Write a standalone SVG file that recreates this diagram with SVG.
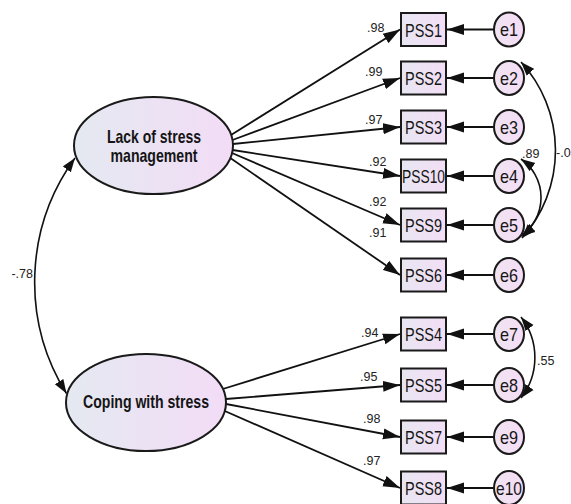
<svg xmlns="http://www.w3.org/2000/svg" width="571" height="504" viewBox="0 0 571 504">
<style>
.lat{stroke:#1a1a1a;stroke-width:2;fill:url(#gLat)}
.obs{stroke:#1a1a1a;stroke-width:2;fill:url(#gObs)}
.err{stroke:#1a1a1a;stroke-width:2;fill:url(#gErr)}
.ln{stroke:#111;stroke-width:1.8;fill:none;marker-end:url(#ah)}
.cv{stroke:#111;stroke-width:1.6;fill:none;marker-start:url(#ah2);marker-end:url(#ah2)}
.tl{font-family:"Liberation Sans",Arial,sans-serif;font-weight:bold;font-size:18.5px;fill:#151515;text-anchor:middle}
.tn{font-family:"Liberation Sans",Arial,sans-serif;font-size:19px;fill:#151515;text-anchor:middle}
.lb{font-family:"Liberation Sans",Arial,sans-serif;font-size:12.5px;fill:#222}
</style>
<defs>
<linearGradient id="gLat" x1="0" y1="0" x2="1" y2="0"><stop offset="0" stop-color="#e4e9f1"/><stop offset="1" stop-color="#f3dcf6"/></linearGradient>
<linearGradient id="gObs" x1="0" y1="0" x2="1" y2="0"><stop offset="0" stop-color="#e8e6f2"/><stop offset="1" stop-color="#f2def5"/></linearGradient>
<linearGradient id="gErr" x1="0" y1="0" x2="1" y2="0"><stop offset="0" stop-color="#efe4f2"/><stop offset="1" stop-color="#f5dcf5"/></linearGradient>
<marker id="ah" markerUnits="userSpaceOnUse" markerWidth="18" markerHeight="12" refX="17" refY="6" orient="auto"><path d="M0,0.5 L17,6 L0,11.5 z" fill="#111"/></marker>
<marker id="ah2" markerUnits="userSpaceOnUse" markerWidth="15" markerHeight="11" refX="14" refY="5.5" orient="auto-start-reverse"><path d="M0,0.5 L14,5.5 L0,10.5 z" fill="#111"/></marker>
</defs>

<g id="connectors">
<path class="ln" d="M231,135 L400,29.5"/>
<path class="ln" d="M232.5,140 L400,78"/>
<path class="ln" d="M233,144 L400,127"/>
<path class="ln" d="M232.7,150 L400,176"/>
<path class="ln" d="M232,153 L400,225"/>
<path class="ln" d="M230.3,158 L400,275"/>
<path class="ln" d="M222.8,389 L400,334"/>
<path class="ln" d="M225.8,399 L400,385"/>
<path class="ln" d="M226,404 L400,437"/>
<path class="ln" d="M224.8,411 L400,488"/>
<path class="ln" d="M494,29.5 L447,29.5"/>
<path class="ln" d="M494,78 L447,78"/>
<path class="ln" d="M494,127 L447,127"/>
<path class="ln" d="M494,176 L447,176"/>
<path class="ln" d="M494,225 L447,225"/>
<path class="ln" d="M494,275 L447,275"/>
<path class="ln" d="M494,334 L447,334"/>
<path class="ln" d="M494,385 L447,385"/>
<path class="ln" d="M494,437 L447,437"/>
<path class="ln" d="M494,488 L447,488"/>
<path class="cv" d="M75,158 A211,211 0 0 0 66.5,393.5"/>
<path class="cv" d="M521,62 A131,131 0 0 1 522,238"/>
<path class="cv" d="M521,159 A47,47 0 0 1 521,236"/>
<path class="cv" d="M521,317 A66,66 0 0 1 521,398"/>
</g>

<g id="lat1"><ellipse class="lat" cx="153.5" cy="145.5" rx="79.5" ry="48.5"/><text class="tl" x="154" y="142.5" textLength="94" lengthAdjust="spacingAndGlyphs">Lack of stress</text><text class="tl" x="154" y="162" textLength="87" lengthAdjust="spacingAndGlyphs">management</text></g>
<g id="lat2"><ellipse class="lat" cx="146" cy="402.5" rx="80" ry="48.5"/><text class="tl" x="146" y="408" textLength="126" lengthAdjust="spacingAndGlyphs">Coping with stress</text></g>

<g id="PSS1"><rect class="obs" x="401" y="13" width="45" height="33"/><text class="tn" x="423.5" y="36.5" textLength="37" lengthAdjust="spacingAndGlyphs">PSS1</text></g>
<g id="PSS2"><rect class="obs" x="401" y="61.5" width="45" height="33"/><text class="tn" x="423.5" y="85" textLength="37" lengthAdjust="spacingAndGlyphs">PSS2</text></g>
<g id="PSS3"><rect class="obs" x="401" y="110.5" width="45" height="33"/><text class="tn" x="423.5" y="134" textLength="37" lengthAdjust="spacingAndGlyphs">PSS3</text></g>
<g id="PSS10"><rect class="obs" x="401" y="159.5" width="45" height="33"/><text class="tn" x="423.5" y="183" textLength="43" lengthAdjust="spacingAndGlyphs">PSS10</text></g>
<g id="PSS9"><rect class="obs" x="401" y="208.5" width="45" height="33"/><text class="tn" x="423.5" y="232" textLength="37" lengthAdjust="spacingAndGlyphs">PSS9</text></g>
<g id="PSS6"><rect class="obs" x="401" y="258.5" width="45" height="33"/><text class="tn" x="423.5" y="282" textLength="37" lengthAdjust="spacingAndGlyphs">PSS6</text></g>
<g id="PSS4"><rect class="obs" x="401" y="317.5" width="45" height="33"/><text class="tn" x="423.5" y="341" textLength="37" lengthAdjust="spacingAndGlyphs">PSS4</text></g>
<g id="PSS5"><rect class="obs" x="401" y="368.5" width="45" height="33"/><text class="tn" x="423.5" y="392" textLength="37" lengthAdjust="spacingAndGlyphs">PSS5</text></g>
<g id="PSS7"><rect class="obs" x="401" y="420.5" width="45" height="33"/><text class="tn" x="423.5" y="444" textLength="37" lengthAdjust="spacingAndGlyphs">PSS7</text></g>
<g id="PSS8"><rect class="obs" x="401" y="471.5" width="45" height="33"/><text class="tn" x="423.5" y="495" textLength="37" lengthAdjust="spacingAndGlyphs">PSS8</text></g>

<g id="e1"><ellipse class="err" cx="509" cy="29.5" rx="15" ry="17"/><text class="tn" x="509" y="36" textLength="18" lengthAdjust="spacingAndGlyphs">e1</text></g>
<g id="e2"><ellipse class="err" cx="509" cy="78" rx="15" ry="17"/><text class="tn" x="509" y="84.5" textLength="18" lengthAdjust="spacingAndGlyphs">e2</text></g>
<g id="e3"><ellipse class="err" cx="509" cy="127" rx="15" ry="17"/><text class="tn" x="509" y="133.5" textLength="18" lengthAdjust="spacingAndGlyphs">e3</text></g>
<g id="e4"><ellipse class="err" cx="509" cy="176" rx="15" ry="17"/><text class="tn" x="509" y="182.5" textLength="18" lengthAdjust="spacingAndGlyphs">e4</text></g>
<g id="e5"><ellipse class="err" cx="509" cy="225" rx="15" ry="17"/><text class="tn" x="509" y="231.5" textLength="18" lengthAdjust="spacingAndGlyphs">e5</text></g>
<g id="e6"><ellipse class="err" cx="509" cy="275" rx="15" ry="17"/><text class="tn" x="509" y="281.5" textLength="18" lengthAdjust="spacingAndGlyphs">e6</text></g>
<g id="e7"><ellipse class="err" cx="509" cy="334" rx="15" ry="17"/><text class="tn" x="509" y="340.5" textLength="18" lengthAdjust="spacingAndGlyphs">e7</text></g>
<g id="e8"><ellipse class="err" cx="509" cy="385" rx="15" ry="17"/><text class="tn" x="509" y="391.5" textLength="18" lengthAdjust="spacingAndGlyphs">e8</text></g>
<g id="e9"><ellipse class="err" cx="509" cy="437" rx="15" ry="17"/><text class="tn" x="509" y="443.5" textLength="18" lengthAdjust="spacingAndGlyphs">e9</text></g>
<g id="e10"><ellipse class="err" cx="509" cy="488" rx="15" ry="17"/><text class="tn" x="509" y="494.5" textLength="26" lengthAdjust="spacingAndGlyphs">e10</text></g>

<g id="labels">
<text class="lb" x="367" y="32">.98</text>
<text class="lb" x="365" y="76">.99</text>
<text class="lb" x="365" y="124">.97</text>
<text class="lb" x="369" y="166">.92</text>
<text class="lb" x="369" y="206">.92</text>
<text class="lb" x="369" y="237">.91</text>
<text class="lb" x="361" y="337">.94</text>
<text class="lb" x="360" y="381">.95</text>
<text class="lb" x="363" y="423">.98</text>
<text class="lb" x="363" y="465">.97</text>
<text class="lb" x="522" y="158">.89</text>
<text class="lb" x="556" y="157">-.0</text>
<text class="lb" x="537" y="365">.55</text>
<text class="lb" x="33" y="278" text-anchor="end">-.78</text>
</g>
</svg>
